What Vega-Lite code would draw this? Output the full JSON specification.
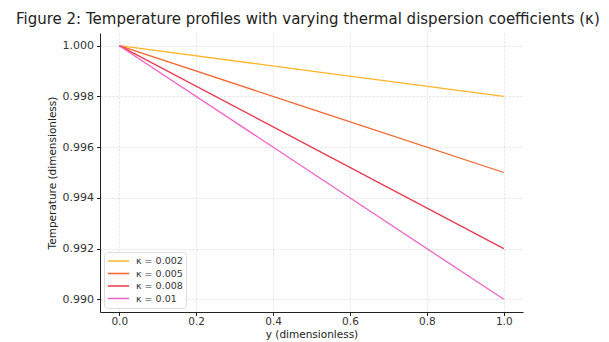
{
  "$schema": "https://vega.github.io/schema/vega-lite/v6.json",
  "width": 423,
  "height": 279,
  "autosize": {"type": "none"},
  "padding": {"left": 100, "top": 33, "right": 86, "bottom": 30},
  "background": "white",
  "title": {
    "text": "Figure 2: Temperature profiles with varying thermal dispersion coefficients (κ)",
    "anchor": "start",
    "frame": "group",
    "dx": -84,
    "offset": 6,
    "font": "DejaVu Sans",
    "fontSize": 15,
    "fontWeight": "normal",
    "color": "#222222"
  },
  "config": {
    "view": {"stroke": null},
    "font": "DejaVu Sans",
    "axis": {
      "labelFont": "DejaVu Sans",
      "titleFont": "DejaVu Sans",
      "labelFontSize": 11,
      "labelColor": "#333333",
      "titleFontSize": 10.5,
      "titleFontWeight": "normal",
      "titleColor": "#222222",
      "domainColor": "#222222",
      "domainWidth": 1,
      "tickColor": "#222222",
      "tickSize": 3.5,
      "grid": true,
      "gridColor": "#d9d9d9",
      "gridDash": [2, 2],
      "gridWidth": 0.8
    }
  },
  "data": {
    "values": [
      {"y": 0.0, "T": 1.0, "k": "κ = 0.002"},
      {"y": 0.5, "T": 0.999, "k": "κ = 0.002"},
      {"y": 1.0, "T": 0.998, "k": "κ = 0.002"},
      {"y": 0.0, "T": 1.0, "k": "κ = 0.005"},
      {"y": 0.5, "T": 0.9975, "k": "κ = 0.005"},
      {"y": 1.0, "T": 0.995, "k": "κ = 0.005"},
      {"y": 0.0, "T": 1.0, "k": "κ = 0.008"},
      {"y": 0.5, "T": 0.996, "k": "κ = 0.008"},
      {"y": 1.0, "T": 0.992, "k": "κ = 0.008"},
      {"y": 0.0, "T": 1.0, "k": "κ = 0.01"},
      {"y": 0.5, "T": 0.995, "k": "κ = 0.01"},
      {"y": 1.0, "T": 0.990, "k": "κ = 0.01"}
    ]
  },
  "mark": {"type": "line", "strokeWidth": 1.3},
  "encoding": {
    "x": {
      "field": "y",
      "type": "quantitative",
      "scale": {"domain": [-0.05, 1.05], "nice": false, "zero": false},
      "axis": {"values": [0, 0.2, 0.4, 0.6, 0.8, 1.0], "format": ".1f", "title": "y (dimensionless)", "titlePadding": 2, "labelPadding": 1, "labelFontSize": 10.5, "titleBaseline": "top"}
    },
    "y": {
      "field": "T",
      "type": "quantitative",
      "scale": {"domain": [0.9895, 1.0005], "nice": false, "zero": false},
      "axis": {"values": [0.99, 0.992, 0.994, 0.996, 0.998, 1.0], "format": ".3f", "title": "Temperature (dimensionless)", "titlePadding": 5, "labelPadding": 3}
    },
    "color": {
      "field": "k",
      "type": "nominal",
      "scale": {
        "domain": ["κ = 0.002", "κ = 0.005", "κ = 0.008", "κ = 0.01"],
        "range": ["#ffb52a", "#f5652c", "#e83a50", "#f263c8"]
      },
      "legend": {
        "title": null,
        "orient": "bottom-left",
        "offset": 4,
        "symbolType": "stroke",
        "symbolSize": 450,
        "symbolStrokeWidth": 1.5,
        "clipHeight": 12,
        "labelFontSize": 9.5,
        "labelColor": "#333333",
        "rowPadding": 0.5,
        "padding": 3,
        "labelOffset": 6,
        "strokeColor": "#dddddd",
        "cornerRadius": 3,
        "fillColor": "white"
      }
    }
  }
}
